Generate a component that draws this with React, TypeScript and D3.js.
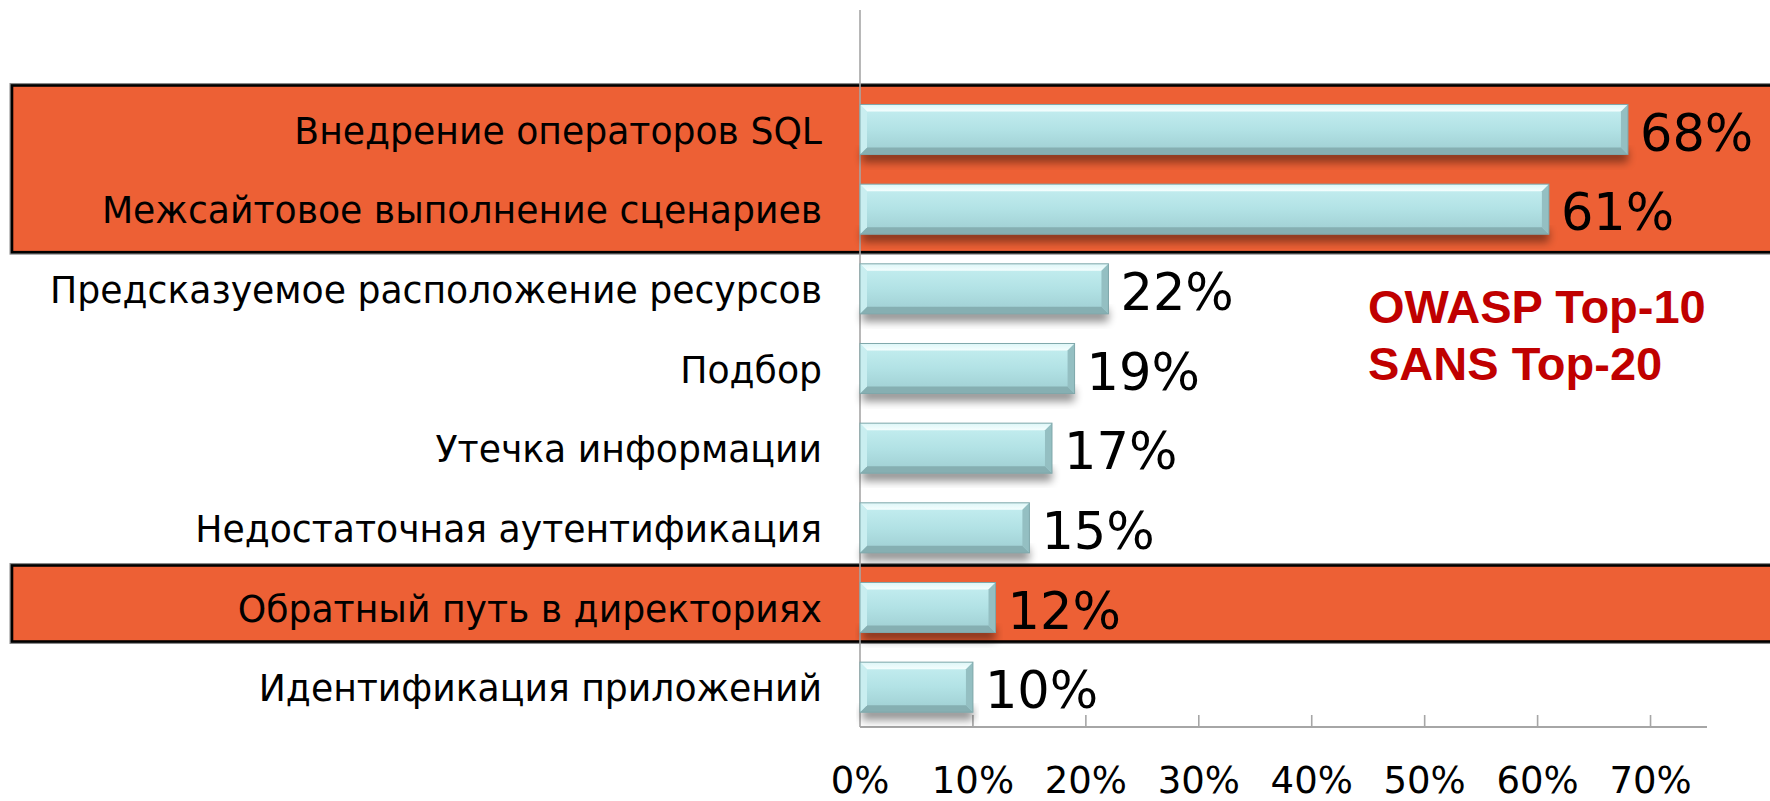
import React from "react";
import * as d3 from "d3";

const categories = [
  "Внедрение операторов SQL",
  "Межсайтовое выполнение сценариев",
  "Предсказуемое расположение ресурсов",
  "Подбор",
  "Утечка информации",
  "Недостаточная аутентификация",
  "Обратный путь в директориях",
  "Идентификация приложений",
];
const values = [68, 61, 22, 19, 17, 15, 12, 10];
const xTicks = [0, 10, 20, 30, 40, 50, 60, 70];
const highlightGroups = [
  [0, 1],
  [6],
];
const noteLines = ["OWASP Top-10", "SANS Top-20"];

const W = 1770;
const H = 801;
const EMPTY = "__empty__";

export default function App() {
  const x = d3.scaleLinear().domain([0, 75]).range([860, 1707]);
  const y = d3
    .scaleBand<string>()
    .domain([EMPTY, ...categories])
    .range([10, 727])
    .paddingInner(0.372)
    .paddingOuter(0.186);
  const bw = y.bandwidth();
  const b = 7;
  const pad = [
    [19, 18],
    [17, 9],
  ];

  return (
    <svg
      width={W}
      height={H}
      style={{ position: "absolute", left: 0, top: 0, background: "#fff" }}
      fontFamily="'DejaVu Sans', Verdana, sans-serif"
    >
      <defs>
        <linearGradient id="face" x1="0" y1="0" x2="0" y2="1">
          <stop offset="0" stopColor="#C6EFF1" />
          <stop offset="0.5" stopColor="#B2E2E5" />
          <stop offset="1" stopColor="#9ECDD1" />
        </linearGradient>
        <linearGradient id="topEdge" x1="0" y1="0" x2="0" y2="1">
          <stop offset="0" stopColor="#DDF6F7" />
          <stop offset="1" stopColor="#F4FEFE" />
        </linearGradient>
        <filter id="shadow" x="-5%" y="-30%" width="110%" height="180%">
          <feGaussianBlur stdDeviation="4" />
        </filter>
      </defs>

      {highlightGroups.map((g, i) => {
        const top = (y(categories[g[0]]) as number) - pad[i][0];
        const bottom = (y(categories[g[g.length - 1]]) as number) + bw + pad[i][1];
        return (
          <g key={"hl" + i}>
            <rect x={12} y={top} width={W + 40} height={bottom - top} fill="none" stroke="#8a8a8a" strokeWidth={5} />
            <rect x={12} y={top} width={W + 40} height={bottom - top} fill="#ED6035" stroke="#000" strokeWidth={2.6} />
          </g>
        );
      })}

      {/* axes */}
      <line x1={x(0)} x2={x(0)} y1={10} y2={727} stroke="#A6A6A6" strokeWidth={1.6} />
      <line x1={x(0)} x2={x(75)} y1={727} y2={727} stroke="#A6A6A6" strokeWidth={2} />
      {xTicks.slice(1).map((t) => (
        <line key={"t" + t} x1={x(t)} x2={x(t)} y1={715} y2={727} stroke="#A6A6A6" strokeWidth={1.6} />
      ))}

      {/* bars */}
      {categories.map((c, i) => {
        const y0 = y(c) as number;
        const x0 = x(0);
        const x1 = x(values[i]);
        const h = bw;
        return (
          <g key={"bar" + i}>
            <rect x={x0 + 2} y={y0 + h - 5} width={x1 - x0 - 2} height={13} fill="#000" opacity={0.42} filter="url(#shadow)" />
            <rect x={x0} y={y0} width={x1 - x0} height={h} fill="url(#face)" />
            <polygon points={`${x0},${y0} ${x1},${y0} ${x1 - b},${y0 + b} ${x0 + b},${y0 + b}`} fill="url(#topEdge)" />
            <polygon points={`${x0},${y0 + h} ${x1},${y0 + h} ${x1 - b},${y0 + h - b} ${x0 + b},${y0 + h - b}`} fill="#86AFB2" />
            <polygon points={`${x0},${y0} ${x0 + b},${y0 + b} ${x0 + b},${y0 + h - b} ${x0},${y0 + h}`} fill="#C9EEF0" />
            <polygon points={`${x1},${y0} ${x1 - b},${y0 + b} ${x1 - b},${y0 + h - b} ${x1},${y0 + h}`} fill="#94BFC2" />
            <rect x={x0} y={y0} width={x1 - x0} height={h} fill="none" stroke="#7FA7AA" strokeWidth={1} />
          </g>
        );
      })}

      {/* category labels */}
      {categories.map((c) => (
        <text
          key={"l" + c}
          transform={`translate(822,${(y(c) as number) + bw / 2 + 14}) scale(0.965,1)`}
          textAnchor="end"
          fontSize={37.5}
          fill="#000"
        >
          {c}
        </text>
      ))}

      {/* value labels */}
      {categories.map((c, i) => (
        <text
          key={"v" + c}
          x={x(values[i]) + 12}
          y={(y(c) as number) + bw / 2 + 21}
          fontSize={51}
          fill="#000"
        >
          {values[i] + "%"}
        </text>
      ))}

      {/* x tick labels */}
      {xTicks.map((t) => (
        <text key={"xl" + t} x={x(t)} y={793} textAnchor="middle" fontSize={37} fill="#000">
          {t + "%"}
        </text>
      ))}

      {/* note */}
      {noteLines.map((s, i) => (
        <text
          key={"n" + i}
          x={1368}
          y={323 + i * 57}
          fontFamily="'Liberation Sans', Arial, sans-serif"
          fontWeight="bold"
          fontSize={47}
          fill="#C00000"
        >
          {s}
        </text>
      ))}
    </svg>
  );
}
